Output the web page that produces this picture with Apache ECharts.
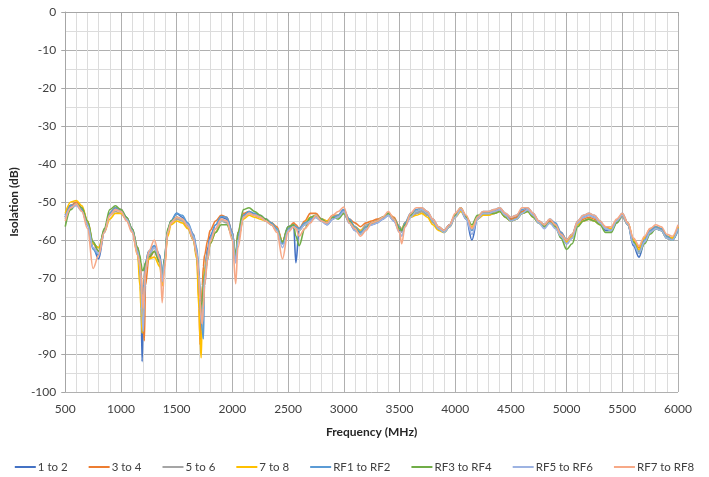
<!DOCTYPE html>
<html>
<head>
<meta charset="utf-8">
<script src="https://cdn.jsdelivr.net/npm/echarts@6/dist/echarts.min.js"></script>
<style>
html,body{margin:0;padding:0;background:#fff;}
#chart{width:709px;height:477px;}
</style>
</head>
<body>
<div id="chart"></div>
<script>
// Frequency points (MHz)
const freq = [500,550,600,650,700,750,800,850,900,950,1000,1050,1100,1150,
  1170,1180,1190,1200,1210,1220,
  1250,1300,1350,1370,1390,1420,1450,
  1500,1550,1600,1650,1680,
  1700,1710,1720,1730,1740,1750,1780,
  1800,1850,1900,1950,2000,2030,2050,
  2100,2150,2200,2250,2300,2350,2400,2450,2500,2550,2570,2600,2650,
  2700,2750,2800,2850,2900,2950,3000,3050,3100,3150,3200,3250,3300,3350,3400,3450,3500,
  3520,3550,
  3600,3650,3700,3750,3800,3850,3900,3950,4000,4050,
  4100,4150,4200,4250,4300,4350,4400,4450,4500,4550,
  4600,4650,4700,4750,4800,4850,4900,4950,5000,5050,
  5100,5150,5200,5250,5300,5350,5400,5450,5500,5550,
  5600,5650,5700,5750,5800,5850,5900,5950,6000];

const names = ['1 to 2','3 to 4','5 to 6','7 to 8','RF1 to RF2','RF3 to RF4','RF5 to RF6','RF7 to RF8'];
const colors = ['#4472C4','#ED7D31','#A5A5A5','#FFC000','#5B9BD5','#70AD47','#9DB3E2','#F7A987'];

const s1 = [-53.5,-50.8,-50.5,-52,-56,-62,-65,-58,-53,-51.5,-52.5,-54.5,-57.5,-63.5,
  -68,-75,-92,-80,-70,-66,
  -63,-61.5,-64,-70,-65,-57.5,-55,
  -53,-54,-56,-59,-63,
  -69,-76,-80,-77,-72,-68,-62,
  -59,-56,-54,-54.5,-58,-65,-59,
  -53.5,-52.5,-53.5,-54,-54.5,-55.5,-57,-60.5,-56.5,-56,-66,-57,-56,
  -55,-54,-55,-56,-54.5,-53.5,-52,-55.5,-57.5,-58,-56.5,-56,-55.5,-54.5,-53.5,-55,-57.5,
  -57.5,-56,
  -54,-53,-52.5,-53.5,-55,-57,-57.5,-56,-53.5,-52,
  -54.5,-60,-54.5,-53,-53,-52.5,-52,-53.5,-54.5,-54,
  -52.5,-52,-53.5,-55.5,-56.5,-55,-56,-58.5,-61,-59,
  -55.5,-54,-53.5,-54,-55.5,-57.5,-57.5,-55,-53.5,-56,
  -61.5,-64.5,-60.5,-58,-57,-57.5,-59.5,-60,-57];

const s2 = [-54,-51,-50,-51.5,-55,-61,-63,-57.5,-53,-51.5,-52,-54,-57,-62,
  -65,-68,-74,-82,-86.5,-72,
  -65,-63,-66,-72,-67,-58,-55.5,
  -54,-54.5,-56,-58.5,-63,
  -76,-87.5,-80,-72,-67,-64,-60,
  -57.5,-55,-53.5,-54,-58,-65,-58,
  -53,-52.5,-53.5,-54,-54.5,-55.5,-56.5,-60.5,-57,-55.5,-56,-57,-55,
  -53,-53,-54.5,-55,-53.5,-53.5,-52.5,-54.5,-55.5,-56.5,-55.5,-55,-54.5,-54,-53,-54,-56.5,
  -57.5,-55.5,
  -53.5,-52.5,-52,-53,-55,-56.5,-57.5,-56,-53.5,-52,
  -54,-57,-54,-53,-53,-52.5,-52,-53.5,-54.5,-54,
  -52.5,-52,-53.5,-55,-56,-55,-56,-58,-60,-58.5,
  -55.5,-54.5,-54,-54.5,-55.5,-56.5,-57,-55,-53.5,-55.5,
  -60,-62,-59.5,-57,-56.5,-57,-59,-59.5,-56.5];

const s3 = [-54.5,-51.5,-50.5,-52,-55.5,-61,-62,-57.5,-53.5,-52.5,-53,-54.5,-57.5,-63,
  -66,-70,-76,-78,-74,-68,
  -64,-62,-65,-71,-66,-58,-55.5,
  -54.5,-55,-56.5,-59.5,-63.5,
  -70,-78,-82,-76,-71,-68,-63,
  -60,-57,-55,-55.5,-59,-66,-60,
  -54,-53,-53.5,-54,-55,-56,-57,-61,-57,-56,-56.5,-57.5,-56,
  -54.5,-54,-55,-55.5,-54,-54,-53,-55.5,-56.5,-57.5,-56,-55.5,-55,-54,-53.5,-54.5,-57,
  -58,-56,
  -54,-53,-52.5,-53.5,-55.5,-57,-58,-56.5,-54,-52.5,
  -54.5,-57.5,-54.5,-53.5,-53.5,-53,-52.5,-54,-55,-54.5,
  -53,-52.5,-54,-55.5,-56.5,-55.5,-56.5,-59,-61,-59.5,
  -56,-55,-54.5,-55,-56,-57,-57.5,-55.5,-54,-56,
  -60.5,-63,-60.5,-58,-57,-57.5,-59.5,-60,-57];

const s4 = [-53,-50,-49.6,-51,-55,-61,-62,-58,-54.5,-53,-53,-54.5,-57.5,-64,
  -72,-78,-84.5,-76,-70,-67,
  -65,-64.5,-67,-72,-67,-59,-56,
  -55,-55.5,-57,-60,-65,
  -78,-86,-91,-80,-72,-68,-64,
  -61,-58,-55,-55,-58.5,-65,-60,
  -54.5,-53.5,-54,-54.5,-55,-55.5,-57,-60.5,-57,-56,-56.5,-57.5,-55.5,
  -54,-54,-54.5,-55,-54,-53.5,-53,-55,-56.5,-57.5,-56.5,-55.5,-55,-54,-53,-54.5,-56.5,
  -57,-55.5,
  -54,-53.5,-53,-54,-56,-57.5,-58,-56.5,-54,-52.5,
  -54,-56.5,-54.5,-53.5,-53.5,-53,-52.5,-54,-55,-54.5,
  -53,-52.5,-54,-55.5,-56.5,-55.5,-56.5,-59,-60.5,-59,
  -56,-55,-54.5,-55,-56,-57,-57,-55,-53.5,-55.5,
  -60,-62.5,-59.5,-57.5,-56.5,-57,-59,-59.5,-56.5];

const s5 = [-54,-51,-50.5,-52,-56,-62.5,-64,-58,-53,-51.5,-52,-54,-57,-62.5,
  -66,-70,-76,-74,-70,-66,
  -63,-61.5,-64.5,-70,-65,-57.5,-55,
  -53,-53.5,-55.5,-58.5,-62,
  -68,-74,-80,-84,-86,-72,-64,
  -59.5,-56,-53.8,-54,-58,-65.5,-59,
  -53.5,-52.5,-53,-53.5,-54.5,-55.5,-57,-61,-57,-56,-56.5,-57,-55.5,
  -54.5,-53.5,-54.5,-55.5,-54,-53.5,-52,-54.5,-56.5,-58,-56.5,-55.5,-55,-54,-53,-54.5,-56.5,
  -57.5,-55.5,
  -53,-52,-51.5,-52.5,-54.5,-56.5,-57.5,-56,-53.5,-51.5,
  -54,-57.5,-54,-52.5,-52.5,-52,-51.5,-53,-54,-53.5,
  -52,-51.5,-53,-55,-56,-54.5,-55.5,-58,-60,-58.5,
  -55,-53.5,-53,-53.5,-55,-57,-57.5,-55,-53,-55.5,
  -61,-63.5,-60,-57.5,-56.5,-57,-59,-60,-57.5];

const s6 = [-56.5,-52,-50.5,-51.5,-55,-60.5,-63,-57,-52,-51,-52,-54,-57,-62,
  -64,-66,-68,-68,-67,-66,
  -64.5,-63,-66,-71,-65,-57,-55,
  -54,-54.5,-56.5,-60,-64,
  -70,-76,-79,-76,-72,-69,-65,
  -61,-58,-56,-56,-59,-64,-58,
  -52,-51.5,-52.5,-53.5,-54.5,-56,-57.5,-60.5,-56.5,-56,-59,-61.5,-57,
  -54,-53.5,-54.5,-55.5,-54,-54.5,-53,-55,-57,-58.5,-57,-55.5,-55,-54,-53,-54.5,-57,
  -57.5,-56,
  -53.5,-52.5,-52,-53,-55,-57,-58,-56.5,-53.5,-51.5,
  -54,-56,-53.5,-53,-53,-53,-52.5,-54,-55,-54.5,
  -53,-52.5,-54,-55.5,-56.5,-55.5,-56.5,-59.5,-62.5,-61,
  -56.5,-55,-54.5,-55,-56,-58,-58,-55.5,-53.5,-56,
  -60.5,-63.5,-61,-58.5,-57,-57.5,-59.5,-60,-57];

const s7 = [-54,-51.5,-51,-52.5,-56,-62,-63.5,-58,-53.5,-52,-52.5,-54.5,-57.5,-63,
  -67,-72,-80,-84,-76,-68,
  -63.5,-62,-65,-71,-66,-58,-55.5,
  -54,-54.5,-56,-59,-63,
  -69,-76,-81,-82,-76,-70,-64,
  -60,-57,-55,-55,-58.5,-66,-60,
  -54,-53,-53.5,-54,-55,-56,-57.5,-62,-57.5,-56.5,-57,-57.5,-56,
  -55,-54,-55,-56,-54.5,-54,-52.5,-55.5,-57.5,-58.5,-57,-56,-55.5,-54.5,-53.5,-55,-58,
  -59,-56.5,
  -54,-52.5,-52,-53,-55,-57,-58,-56.5,-54,-52,
  -54.5,-58.5,-54.5,-53,-53,-52.5,-52,-53.5,-55,-54.5,
  -53,-52,-53.5,-55.5,-57,-55.5,-57,-59,-61,-59.5,
  -55.5,-54,-53.5,-54,-55.5,-57,-57.5,-55,-53.5,-56,
  -61,-63.5,-60.5,-58,-57,-57.5,-59.5,-60,-57];

const s8 = [-55,-51.5,-50.5,-52.5,-57,-67.5,-64,-58,-53.5,-52,-52.5,-55,-58,-64,
  -66,-69,-74,-78,-72,-68,
  -63,-60,-65,-76.5,-68,-58,-55.5,
  -54,-54.5,-56.5,-60,-64,
  -70,-76,-80,-82,-78,-72,-65,
  -60.5,-57,-54.5,-55,-60,-71.5,-62,
  -54,-53,-53.5,-54,-55,-56,-58,-65,-58,-56.5,-57,-59,-57,
  -55.5,-53.5,-55,-55.5,-53.5,-52.5,-51.3,-55.5,-57,-59,-57.5,-55.5,-55,-54,-52.5,-54.5,-58,
  -61,-56.5,
  -53,-51.5,-51.5,-52.5,-54.5,-56.5,-57.5,-56,-53,-51.5,
  -53.5,-57,-54,-52.5,-52.5,-52,-51.5,-53,-54,-53.5,
  -51.5,-51.5,-53,-55,-56,-54.5,-56,-58.5,-60,-58.5,
  -55,-53.5,-53,-53.5,-55,-56.5,-56.5,-54.5,-53,-55.5,
  -59.5,-61.5,-59,-57,-56,-56.5,-58.5,-59,-56];

const seriesValues = [s1,s2,s3,s4,s5,s6,s7,s8];

const font = 'Lato, "Open Sans", sans-serif';
const chart = echarts.init(document.getElementById('chart'), null, {renderer:'canvas'});
chart.setOption({
  animation: false,
  backgroundColor: '#ffffff',
  color: colors,
  grid: {left: 64, right: 31, top: 12, bottom: 85, containLabel: false},
  xAxis: {
    type: 'value', min: 500, max: 6000, interval: 500,
    name: 'Frequency (MHz)', nameLocation: 'middle', nameGap: 34,
    nameTextStyle: {fontFamily: font, fontSize: 12, fontWeight: 'bold', color: '#262626'},
    axisLine: {show: true, lineStyle: {color: '#A6A6A6', width: 1}},
    axisTick: {show: true, length: 4, lineStyle: {color: '#A6A6A6'}},
    axisLabel: {fontFamily: font, fontSize: 12, color: '#404040', margin: 11,
      formatter: v => String(v)},
    splitLine: {show: true, lineStyle: {color: '#B0B0B0', width: 1}},
    minorTick: {show: false, splitNumber: 5},
    minorSplitLine: {show: true, lineStyle: {color: '#DCDCDC', width: 1}}
  },
  yAxis: {
    type: 'value', min: -100, max: 0, interval: 10,
    name: 'Isolation (dB)', nameLocation: 'middle', nameGap: 42,
    nameTextStyle: {fontFamily: font, fontSize: 12, fontWeight: 'bold', color: '#262626'},
    axisLine: {show: true, lineStyle: {color: '#A6A6A6', width: 1}},
    axisTick: {show: true, length: 4, lineStyle: {color: '#A6A6A6'}},
    axisLabel: {fontFamily: font, fontSize: 12, color: '#404040', margin: 9,
      formatter: v => String(v)},
    splitLine: {show: true, lineStyle: {color: '#B0B0B0', width: 1}},
    minorTick: {show: false, splitNumber: 2},
    minorSplitLine: {show: true, lineStyle: {color: '#DCDCDC', width: 1}}
  },
  legend: {
    bottom: 4, left: 'center', padding: 0,
    icon: 'rect', itemWidth: 21, itemHeight: 2, itemGap: 21,
    textStyle: {fontFamily: font, fontSize: 11.5, color: '#404040', padding: [0,0,0,-3]},
    data: names
  },
  series: names.map((n, i) => ({
    name: n, type: 'line', showSymbol: false, symbol: 'none',
    smooth: 0.35, smoothMonotone: 'x',
    lineStyle: {width: 1.6, color: colors[i]},
    itemStyle: {color: colors[i]},
    data: freq.map((f, k) => [f, seriesValues[i][k]])
  }))
});
</script>
</body>
</html>
